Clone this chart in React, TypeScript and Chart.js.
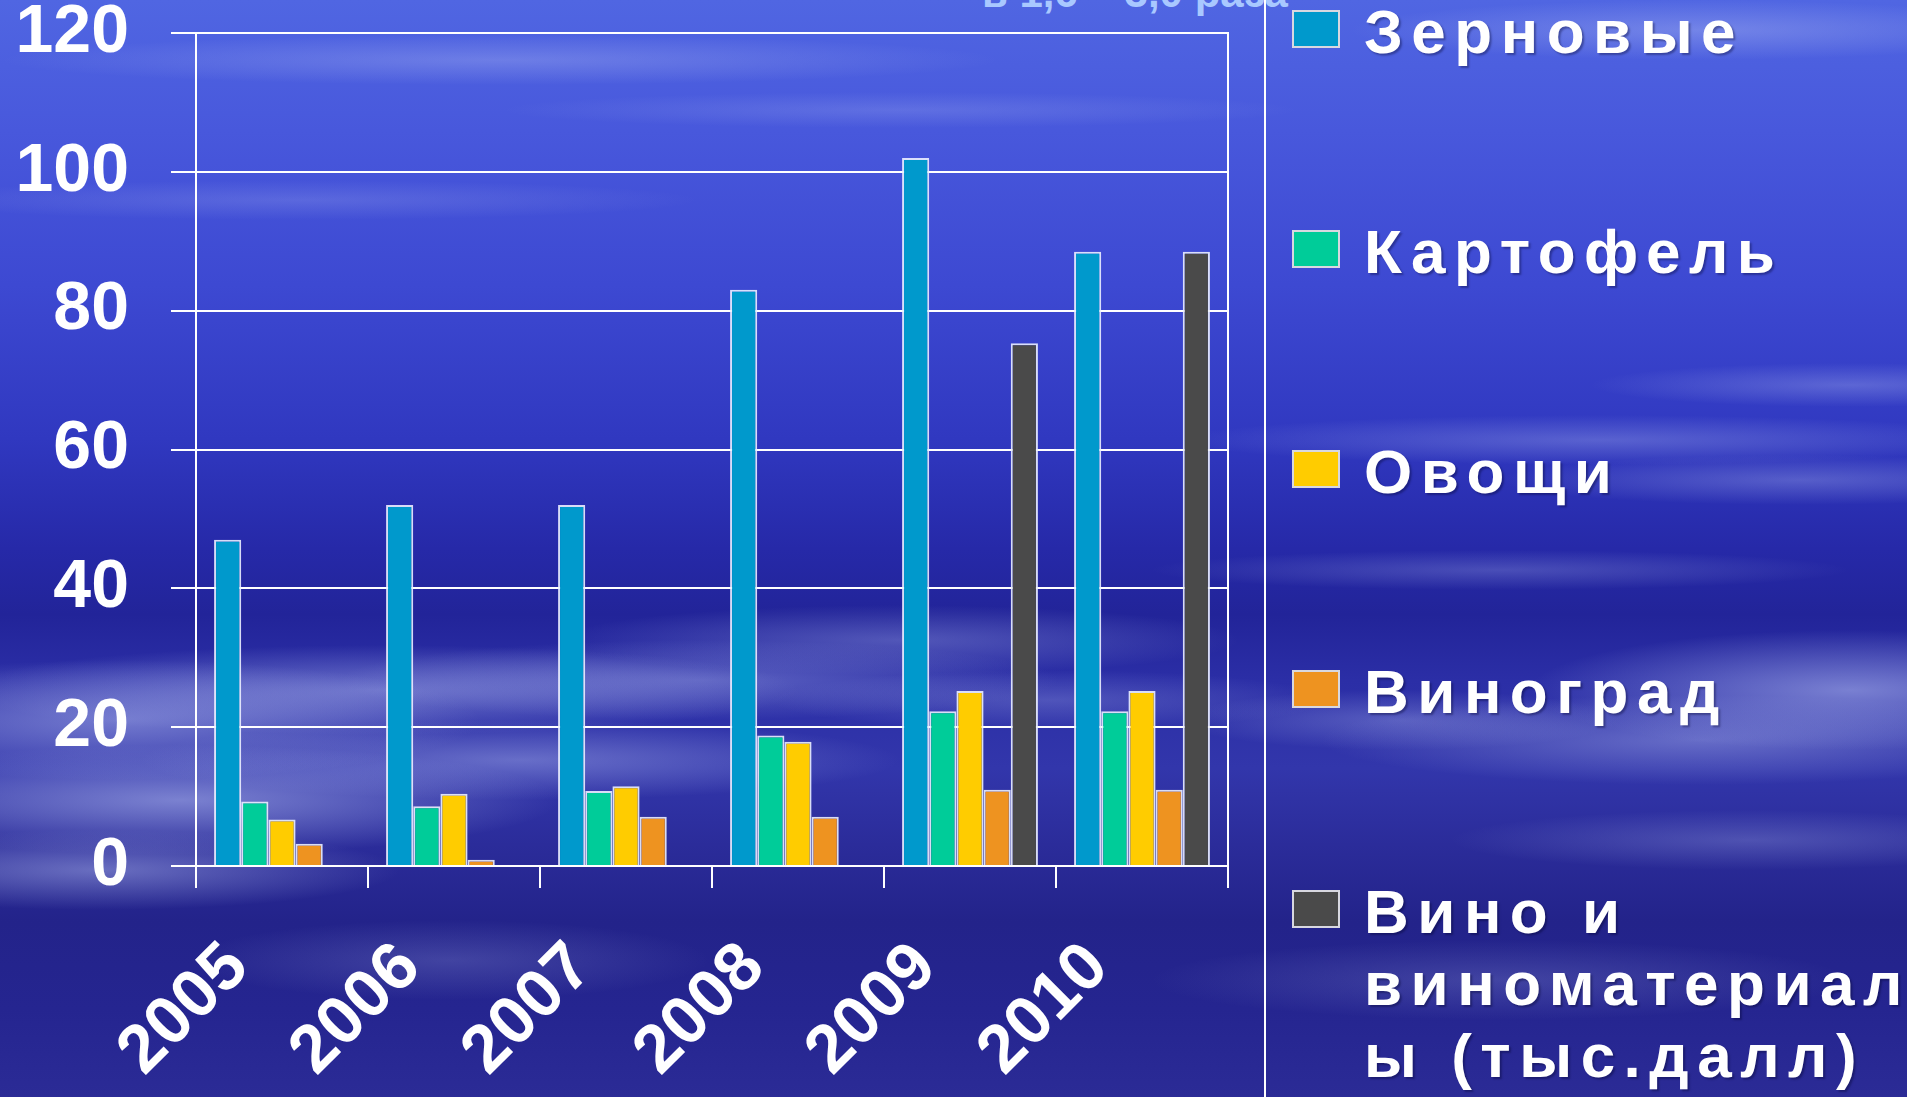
import React, { useEffect, useRef } from 'react';
import { Chart, registerables } from 'chart.js';

Chart.register(...registerables);

// years on the x axis
const years = ['2005', '2006', '2007', '2008', '2009', '2010'];

// series values
const grain = [47, 52, 52, 83, 102, 88.5];
const potato = [9.3, 8.6, 10.8, 18.8, 22.3, 22.3];
const vegetables = [6.7, 10.4, 11.5, 17.9, 25.2, 25.2];
const grapes = [3.2, 0.9, 7.1, 7.1, 11, 11];
const wine = [null, null, null, null, 75.3, 88.5];

const seriesNames = ['Зерновые', 'Картофель', 'Овощи', 'Виноград', 'Вино и виноматериалы (тыс.далл)'];
const legendLines = [['Зерновые'], ['Картофель'], ['Овощи'], ['Виноград'], ['Вино и', 'виноматериал', 'ы (тыс.далл)']];
const seriesColors = ['#0099cc', '#00cc99', '#ffcc00', '#ee9320', '#4a4a4a'];

// y axis
const yMin = 0;
const yMax = 120;
const yStep = 20;

// cloudy slide background: [x, y, rx, ry, alpha]
const clouds: number[][] = [
  [120, 720, 360, 60, 0.5],
  [180, 800, 380, 55, 0.55],
  [100, 870, 300, 40, 0.45],
  [380, 690, 420, 45, 0.45],
  [520, 760, 380, 40, 0.4],
  [700, 680, 360, 40, 0.35],
  [900, 640, 340, 35, 0.3],
  [1050, 700, 280, 30, 0.25],
  [450, 960, 260, 40, 0.2],
  [1850, 690, 320, 60, 0.55],
  [1700, 740, 380, 45, 0.4],
  [1400, 720, 220, 30, 0.3],
  [1600, 440, 420, 25, 0.3],
  [1800, 480, 300, 25, 0.3],
  [1850, 385, 260, 22, 0.3],
  [1500, 570, 350, 20, 0.25],
  [1750, 840, 300, 30, 0.25],
  [1700, 30, 350, 30, 0.35],
  [500, 60, 500, 25, 0.3],
  [300, 200, 400, 20, 0.2],
  [900, 110, 400, 18, 0.2],
  [1500, 980, 350, 40, 0.2],
];

const BG = [
  ...clouds.map(
    ([x, y, rx, ry, a]) =>
      `radial-gradient(ellipse ${rx}px ${ry}px at ${x}px ${y}px, rgba(185,195,245,${a}), rgba(185,195,245,0) 100%)`
  ),
  'linear-gradient(180deg, #5066e2 0%, #4858dc 12%, #3d49d2 26%, #3038c0 40%, #2629a8 50%, #222499 56%, #2b2ea6 62%, #3236ab 70%, #2b2c9a 77%, #23238a 84%, #252590 92%, #2b2b96 100%)',
].join(', ');

const App: React.FC = () => {
  const canvasRef = useRef<HTMLCanvasElement>(null);

  useEffect(() => {
    if (!canvasRef.current) return;
    const existing = Chart.getChart(canvasRef.current);
    if (existing) existing.destroy();

    const data = [grain, potato, vegetables, grapes, wine];

    const chart = new Chart(canvasRef.current, {
      type: 'bar',
      data: {
        labels: years,
        datasets: seriesNames.map((name, i) => ({
          label: name,
          data: data[i],
          backgroundColor: seriesColors[i],
          borderColor: 'rgba(235,240,255,0.9)',
          borderWidth: 2,
          borderSkipped: 'bottom' as const,
          categoryPercentage: 0.79,
          barPercentage: 1.0,
        })),
      },
      options: {
        animation: false,
        responsive: true,
        maintainAspectRatio: false,
        layout: { padding: { top: 33, right: 37, bottom: 0, left: 0 } },
        plugins: {
          legend: { display: false },
          tooltip: { enabled: false },
        },
        scales: {
          x: {
            grid: {
              drawOnChartArea: false,
              color: '#ffffff',
              lineWidth: 2,
              tickLength: 22,
              offset: true,
            },
            border: { display: true, color: '#ffffff', width: 2 },
            ticks: {
              color: '#ffffff',
              font: { family: "'Liberation Sans', Arial, sans-serif", size: 68, weight: 'bold', lineHeight: 1.1 },
              minRotation: 45,
              maxRotation: 45,
              labelOffset: -44,
              padding: 42,
            },
            afterFit: (scale: any) => {
              scale.height = 1097 - 866;
              scale.paddingLeft = 0;
              scale.paddingRight = 0;
            },
          },
          y: {
            min: yMin,
            max: yMax,
            grid: {
              color: '#ffffff',
              lineWidth: 2,
              tickLength: 25,
            },
            border: { display: true, color: '#ffffff', width: 2 },
            ticks: {
              stepSize: yStep,
              color: '#ffffff',
              padding: 42,
              font: { family: "'Liberation Sans', Arial, sans-serif", size: 68, weight: 'bold', lineHeight: 1 },
            },
            afterFit: (scale: any) => {
              scale.width = 196;
              scale.paddingTop = 0;
              scale.paddingBottom = 0;
            },
          },
          y2: {
            position: 'right',
            min: yMin,
            max: yMax,
            grid: { drawOnChartArea: false, drawTicks: false, color: 'rgba(0,0,0,0)' },
            border: { display: true, color: '#ffffff', width: 2 },
            ticks: { display: false },
            afterFit: (scale: any) => {
              scale.width = 0;
              scale.paddingTop = 0;
              scale.paddingBottom = 0;
            },
          },
        },
      },
    });

    return () => {
      chart.destroy();
    };
  }, []);

  return (
    <div
      style={{
        position: 'fixed',
        left: 0,
        top: 0,
        width: 1907,
        height: 1097,
        overflow: 'hidden',
        background: BG,
        fontFamily: "'Liberation Sans', Arial, sans-serif",
      }}
    >
      <div
        style={{
          position: 'absolute',
          left: 982,
          top: -31,
          fontSize: 42,
          fontWeight: 'bold',
          color: '#a9c8ff',
          whiteSpace: 'nowrap',
        }}
      >
        в 1,6 – 3,0 раза
      </div>
      <div style={{ position: 'absolute', left: 0, top: 0, width: 1265, height: 1097 }}>
        <canvas ref={canvasRef} />
      </div>
      <div
        style={{
          position: 'absolute',
          left: 1264,
          top: 0,
          width: 2,
          height: 1097,
          background: '#ffffff',
        }}
      />
      <div style={{ position: 'absolute', left: 1292, top: -4 }}>
        {seriesNames.map((name, i) => (
          <div key={name} style={{ position: 'absolute', left: 0, top: i * 220, display: 'flex', alignItems: 'flex-start' }}>
            <div
              style={{
                width: 44,
                height: 34,
                marginTop: 14,
                background: seriesColors[i],
                border: '2px solid #d8d8e0',
                flexShrink: 0,
              }}
            />
            <div
              style={{
                marginLeft: 24,
                color: '#ffffff',
                fontSize: 62,
                fontWeight: 'bold',
                letterSpacing: 8.5,
                lineHeight: '72px',
                whiteSpace: 'nowrap',
                textShadow: '2px 2px 2px rgba(0,0,40,0.35)',
              }}
            >
              {legendLines[i].map((line) => (
                <div key={line}>{line}</div>
              ))}
            </div>
          </div>
        ))}
      </div>
    </div>
  );
};

export default App;
